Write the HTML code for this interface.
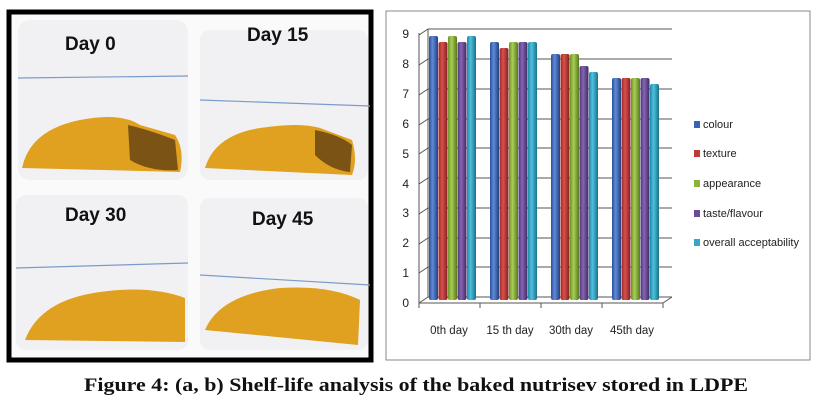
<!DOCTYPE html>
<html><head><meta charset="utf-8"><style>
html,body{margin:0;padding:0;background:#fff;width:818px;height:406px;overflow:hidden}
</style></head><body>
<svg width="818" height="406" viewBox="0 0 818 406" xmlns="http://www.w3.org/2000/svg">
<defs>
<linearGradient id="b0" x1="0" x2="1"><stop offset="0" stop-color="#2a4f9a"/><stop offset=".4" stop-color="#5f8ad8"/><stop offset="1" stop-color="#223f80"/></linearGradient>
<linearGradient id="b1" x1="0" x2="1"><stop offset="0" stop-color="#9a2a28"/><stop offset=".4" stop-color="#d8504c"/><stop offset="1" stop-color="#80221f"/></linearGradient>
<linearGradient id="b2" x1="0" x2="1"><stop offset="0" stop-color="#6f9228"/><stop offset=".4" stop-color="#a8cf55"/><stop offset="1" stop-color="#5a7820"/></linearGradient>
<linearGradient id="b3" x1="0" x2="1"><stop offset="0" stop-color="#4e3676"/><stop offset=".4" stop-color="#8565b5"/><stop offset="1" stop-color="#3f2b60"/></linearGradient>
<linearGradient id="b4" x1="0" x2="1"><stop offset="0" stop-color="#1f8aa8"/><stop offset=".4" stop-color="#4ec0de"/><stop offset="1" stop-color="#187088"/></linearGradient>
</defs>
<rect x="9" y="12" width="362" height="348" fill="#fafafb" stroke="#000" stroke-width="5"/>
<g fill="#f1f1f4">
<rect x="18" y="20" width="170" height="160" rx="12"/>
<rect x="200" y="30" width="168" height="150" rx="10"/>
<rect x="16" y="195" width="172" height="155" rx="10"/>
<rect x="200" y="198" width="168" height="152" rx="10"/>
</g>
<g stroke="#7a9cc8" stroke-width="1.2">
<line x1="18" y1="78" x2="188" y2="76"/><line x1="200" y1="100" x2="370" y2="106"/>
<line x1="16" y1="268" x2="188" y2="263"/><line x1="200" y1="275" x2="370" y2="285"/>
</g>
<g fill="#e0a020">
<path d="M22 168 Q30 130 80 120 Q120 112 140 125 L175 135 Q185 150 180 172 Z"/>
<path d="M205 168 Q215 135 260 128 Q300 122 320 128 L352 140 Q358 160 352 175 Z"/>
<path d="M25 340 Q40 300 100 292 Q150 285 185 298 L185 342 Z"/>
<path d="M205 330 Q220 295 280 288 Q330 285 360 300 L358 345 Z"/>
</g>
<g fill="#5a3a10" opacity=".75">
<path d="M128 125 Q150 130 175 140 L178 170 Q150 172 130 160 Z"/>
<path d="M315 130 Q340 135 352 145 L350 172 Q330 170 315 155 Z"/>
</g>
<g font-family="Liberation Sans, sans-serif" font-weight="bold" font-size="19" fill="#111">
<text x="65" y="50">Day 0</text><text x="247" y="41">Day 15</text>
<text x="65" y="221">Day 30</text><text x="252" y="225">Day 45</text>
</g>
<rect x="386" y="11" width="424" height="349" fill="#fff" stroke="#888" stroke-width="1"/>
<g stroke="#555" stroke-width="1" fill="none">
<line x1="428" y1="297" x2="428" y2="29"/>
<line x1="419" y1="303" x2="419" y2="33"/>
<line x1="419" y1="303" x2="663" y2="303"/>
<line x1="663" y1="303" x2="672" y2="297"/>
</g>
<g stroke="#555" stroke-width="1">
<line x1="428" y1="297" x2="672" y2="297"/><line x1="419" y1="303" x2="428" y2="297"/>
<line x1="428" y1="267" x2="672" y2="267"/><line x1="419" y1="273" x2="428" y2="267"/>
<line x1="428" y1="238" x2="672" y2="238"/><line x1="419" y1="244" x2="428" y2="238"/>
<line x1="428" y1="208" x2="672" y2="208"/><line x1="419" y1="214" x2="428" y2="208"/>
<line x1="428" y1="178" x2="672" y2="178"/><line x1="419" y1="184" x2="428" y2="178"/>
<line x1="428" y1="148" x2="672" y2="148"/><line x1="419" y1="154" x2="428" y2="148"/>
<line x1="428" y1="119" x2="672" y2="119"/><line x1="419" y1="125" x2="428" y2="119"/>
<line x1="428" y1="89" x2="672" y2="89"/><line x1="419" y1="95" x2="428" y2="89"/>
<line x1="428" y1="59" x2="672" y2="59"/><line x1="419" y1="65" x2="428" y2="59"/>
<line x1="428" y1="29" x2="672" y2="29"/><line x1="419" y1="35" x2="428" y2="29"/>
<line x1="419" y1="303" x2="419" y2="308"/><line x1="480" y1="303" x2="480" y2="308"/>
<line x1="541" y1="303" x2="541" y2="308"/><line x1="602" y1="303" x2="602" y2="308"/>
<line x1="663" y1="303" x2="663" y2="308"/>
</g>
<g font-family="Liberation Sans, sans-serif" font-size="12" fill="#222" text-anchor="end">
<text x="409" y="307">0</text><text x="409" y="277">1</text><text x="409" y="247">2</text>
<text x="409" y="217">3</text><text x="409" y="188">4</text><text x="409" y="158">5</text>
<text x="409" y="128">6</text><text x="409" y="98">7</text><text x="409" y="68">8</text><text x="409" y="38">9</text>
</g>
<g>
<rect x="429" y="36" width="9" height="264" fill="url(#b0)" rx="2"/>
<rect x="438.5" y="42" width="9" height="258" fill="url(#b1)" rx="2"/>
<rect x="448" y="36" width="9" height="264" fill="url(#b2)" rx="2"/>
<rect x="457.5" y="42" width="9" height="258" fill="url(#b3)" rx="2"/>
<rect x="467" y="36" width="9" height="264" fill="url(#b4)" rx="2"/>
<rect x="490" y="42" width="9" height="258" fill="url(#b0)" rx="2"/>
<rect x="499.5" y="48" width="9" height="252" fill="url(#b1)" rx="2"/>
<rect x="509" y="42" width="9" height="258" fill="url(#b2)" rx="2"/>
<rect x="518.5" y="42" width="9" height="258" fill="url(#b3)" rx="2"/>
<rect x="528" y="42" width="9" height="258" fill="url(#b4)" rx="2"/>
<rect x="551" y="54" width="9" height="246" fill="url(#b0)" rx="2"/>
<rect x="560.5" y="54" width="9" height="246" fill="url(#b1)" rx="2"/>
<rect x="570" y="54" width="9" height="246" fill="url(#b2)" rx="2"/>
<rect x="579.5" y="66" width="9" height="234" fill="url(#b3)" rx="2"/>
<rect x="589" y="72" width="9" height="228" fill="url(#b4)" rx="2"/>
<rect x="612" y="78" width="9" height="222" fill="url(#b0)" rx="2"/>
<rect x="621.5" y="78" width="9" height="222" fill="url(#b1)" rx="2"/>
<rect x="631" y="78" width="9" height="222" fill="url(#b2)" rx="2"/>
<rect x="640.5" y="78" width="9" height="222" fill="url(#b3)" rx="2"/>
<rect x="650" y="84" width="9" height="216" fill="url(#b4)" rx="2"/>
</g>
<g font-family="Liberation Sans, sans-serif" font-size="11.5" fill="#222" text-anchor="middle">
<text x="449" y="334">0th day</text><text x="510" y="334">15 th day</text>
<text x="571" y="334">30th day</text><text x="632" y="334">45th day</text>
</g>
<rect x="694" y="121" width="6" height="7" fill="#3a62b5"/>
<rect x="694" y="150" width="6" height="7" fill="#c03a36"/>
<rect x="694" y="180" width="6" height="7" fill="#8cb43c"/>
<rect x="694" y="210" width="6" height="7" fill="#6a4c98"/>
<rect x="694" y="239" width="6" height="7" fill="#35a6c6"/>
<g font-family="Liberation Sans, sans-serif" font-size="11" fill="#222">
<text x="703" y="128">colour</text><text x="703" y="157">texture</text>
<text x="703" y="187">appearance</text><text x="703" y="217">taste/flavour</text>
<text x="703" y="246">overall acceptability</text>
</g>
<text x="416" y="391" text-anchor="middle" font-family="Liberation Serif, serif" font-weight="bold" font-size="19" textLength="664" lengthAdjust="spacingAndGlyphs" fill="#111">Figure 4: (a, b) Shelf-life analysis of the baked nutrisev stored in LDPE</text>
</svg>
</body></html>
